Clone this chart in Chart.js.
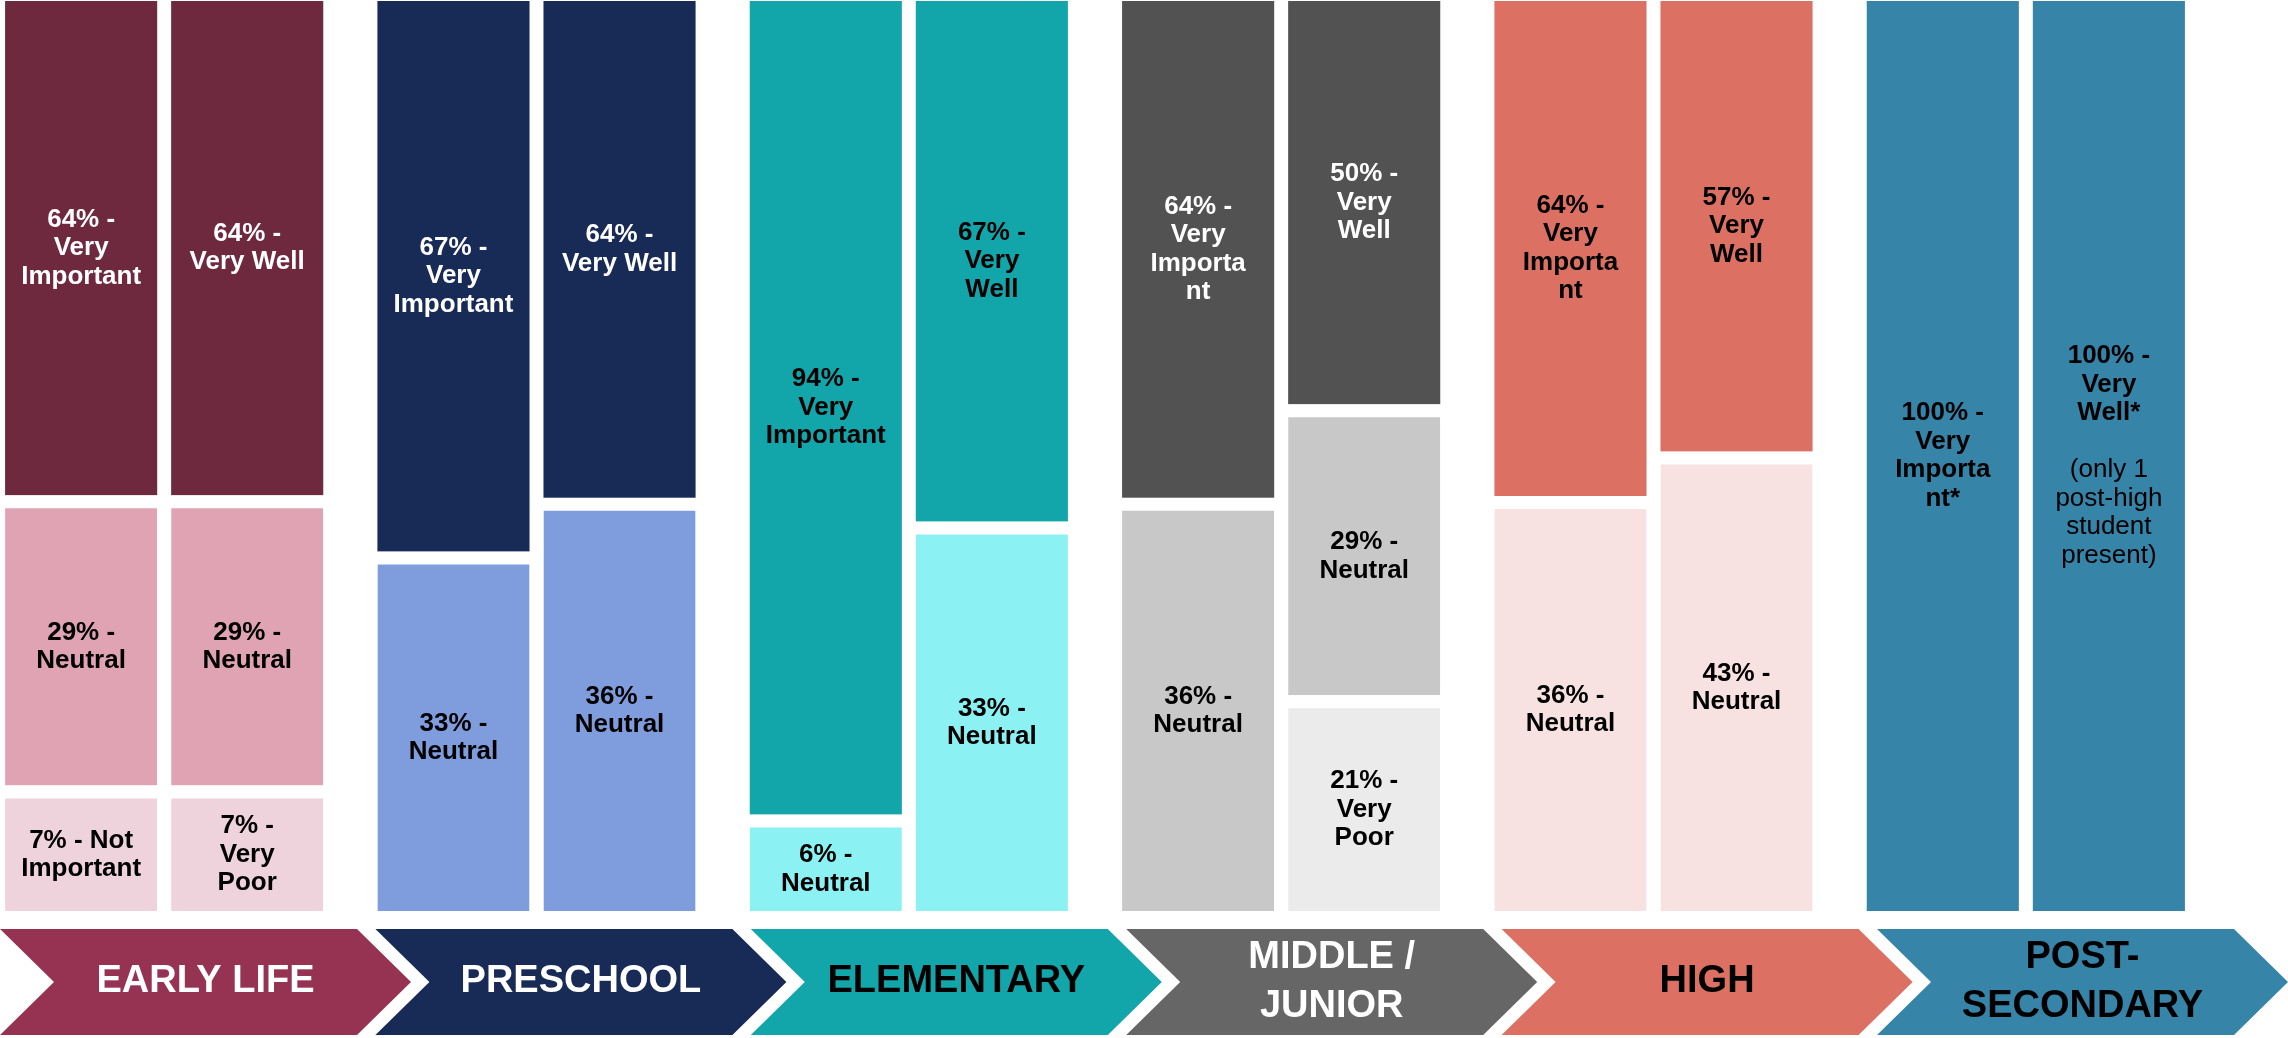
<!DOCTYPE html>
<html>
<head>
<meta charset="utf-8">
<script src="https://cdn.jsdelivr.net/npm/chart.js@4.4.0/dist/chart.umd.min.js"></script>
<style>
html, body { margin: 0; padding: 0; background: #fff; overflow: hidden; }
#wrap { position: relative; width: 2288px; height: 1038px; overflow: hidden; }
#chart { position: absolute; left: -22px; top: 0; }
</style>
</head>
<body>
<div id="wrap"><canvas id="chart" width="2310" height="1038"></canvas></div>
<script>
const stages = [["EARLY LIFE"], ["PRESCHOOL"], ["ELEMENTARY"], ["MIDDLE /", "JUNIOR"], ["HIGH"], ["POST-", "SECONDARY"]];

// share of the column each block takes in the picture (column = 100)
const importantTop = [54.3, 60.5, 89.4, 54.6, 54.4, 100];
const importantMid = [31.9, 39.5, 10.6, 45.4, 45.6, null];
const importantLow = [13.8, null, null, null, null, null];
const wellTop = [54.3, 54.6, 57.2, 44.3, 49.5, 100];
const wellMid = [31.9, 45.4, 42.8, 32.0, 50.5, null];
const wellLow = [13.8, null, null, 23.7, null, null];

// the text written in each block
const importantTopText = [["64% -", "Very", "Important"], ["67% -", "Very", "Important"], ["94% -", "Very", "Important"],
    ["64% -", "Very", "Importa", "nt"], ["64% -", "Very", "Importa", "nt"], ["100% -", "Very", "Importa", "nt*"]];
const importantMidText = [["29% -", "Neutral"], ["33% -", "Neutral"], ["6% -", "Neutral"], ["36% -", "Neutral"], ["36% -", "Neutral"], null];
const importantLowText = [["7% - Not", "Important"], null, null, null, null, null];
const wellTopText = [["64% -", "Very Well"], ["64% -", "Very Well"], ["67% -", "Very", "Well"], ["50% -", "Very", "Well"], ["57% -", "Very", "Well"], ["100% -", "Very", "Well*"]];
const wellMidText = [["29% -", "Neutral"], ["36% -", "Neutral"], ["33% -", "Neutral"], ["29% -", "Neutral"], ["43% -", "Neutral"], null];
const wellLowText = [["7% -", "Very", "Poor"], null, null, ["21% -", "Very", "Poor"], null, null];
const postNote = ["(only 1", "post-high", "student", "present)"];

const topColors = ["#6e293e", "#182a56", "#12a5aa", "#525252", "#dc7163", "#3784a9"];
const midColors = ["#dfa3b4", "#7f9ddd", "#8bf1f3", "#c8c8c8", "#f7e2e1", "#3784a9"];
const lowColors = ["#efd3dc", "#7f9ddd", "#8bf1f3", "#ebebeb", "#f7e2e1", "#3784a9"];
const arrowColors = ["#963353", "#182a56", "#12a5aa", "#666666", "#dc7163", "#3784a9"];
const topTextColors = ["#fff", "#fff", "#000", "#fff", "#000", "#000"];
const arrowTextColors = ["#fff", "#fff", "#000", "#fff", "#000", "#000"];

const GAP = 13;
const LINE = 28.5;
const FONT = "'Liberation Sans', Arial, sans-serif";

function block(label, data, colors, stack, gap, texts, textColors, note) {
    return {
        label: label,
        data: data,
        stack: stack,
        backgroundColor: colors,
        borderColor: "#fff",
        borderWidth: gap ? { top: GAP, right: 0, bottom: 0, left: 0 } : 0,
        gap: gap,
        texts: texts,
        textColors: textColors,
        note: note
    };
}

const segmentLabels = {
    id: "segmentLabels",
    afterDatasetsDraw(chart) {
        const ctx = chart.ctx;
        ctx.save();
        ctx.textAlign = "center";
        ctx.textBaseline = "middle";
        chart.data.datasets.forEach((ds, di) => {
            const meta = chart.getDatasetMeta(di);
            meta.data.forEach((bar, i) => {
                if (ds.data[i] == null || !ds.texts[i]) return;
                let lines = ds.texts[i].map(t => ({ t: t, bold: true }));
                if (ds.note && ds.note[i]) {
                    lines.push({ t: "", bold: true });
                    ds.note[i].forEach(t => lines.push({ t: t, bold: false }));
                }
                const top = bar.y + (ds.gap ? GAP : 0);
                const mid = (top + bar.base) / 2;
                let y = mid - (lines.length - 1) * LINE / 2;
                ctx.fillStyle = ds.textColors[i];
                lines.forEach(l => {
                    ctx.font = (l.bold ? "bold " : "") + "26px " + FONT;
                    ctx.fillText(l.t, bar.x, y);
                    y += LINE;
                });
            });
        });
        ctx.restore();
    }
};

const stageArrows = {
    id: "stageArrows",
    afterDraw(chart) {
        const ctx = chart.ctx;
        const off = 22, pitch = 375.4, body = 357, tip = 54, top = 929, bottom = 1035;
        const mid = (top + bottom) / 2;
        ctx.save();
        stages.forEach((lines, i) => {
            const x0 = off + i * pitch;
            ctx.beginPath();
            ctx.moveTo(x0, top);
            ctx.lineTo(x0 + body, top);
            ctx.lineTo(x0 + body + tip, mid);
            ctx.lineTo(x0 + body, bottom);
            ctx.lineTo(x0, bottom);
            ctx.lineTo(x0 + tip, mid);
            ctx.closePath();
            ctx.fillStyle = arrowColors[i];
            ctx.fill();

            ctx.fillStyle = arrowTextColors[i];
            ctx.font = "bold 38px " + FONT;
            ctx.textAlign = "center";
            ctx.textBaseline = "middle";
            let y = mid - (lines.length - 1) * 49 / 2;
            lines.forEach(t => {
                ctx.fillText(t, x0 + (body + tip) / 2, y);
                y += 49;
            });
        });
        ctx.restore();
    }
};

const lowTextColors = ["#000", "#000", "#000", "#000", "#000", "#000"];

new Chart(document.getElementById("chart"), {
    type: "bar",
    data: {
        labels: stages,
        datasets: [
            block("Important - low", importantLow, lowColors, "important", true, importantLowText, lowTextColors),
            block("Important - neutral", importantMid, midColors, "important", true, importantMidText, lowTextColors),
            block("Important - very", importantTop, topColors, "important", false, importantTopText, topTextColors),
            block("Well - poor", wellLow, lowColors, "well", true, wellLowText, lowTextColors),
            block("Well - neutral", wellMid, midColors, "well", true, wellMidText, lowTextColors),
            block("Well - very", wellTop, topColors, "well", false, wellTopText, topTextColors,
                [null, null, null, null, null, postNote])
        ]
    },
    options: {
        responsive: false,
        animation: false,
        layout: { padding: { left: 0, right: 76, top: 1, bottom: 127 } },
        datasets: { bar: { categoryPercentage: 0.892, barPercentage: 0.916 } },
        plugins: {
            legend: { display: false },
            tooltip: { enabled: false }
        },
        scales: {
            x: { display: false, stacked: true },
            y: { display: false, stacked: true, min: 0, max: 100 }
        }
    },
    plugins: [segmentLabels, stageArrows]
});
</script>
</body>
</html>
